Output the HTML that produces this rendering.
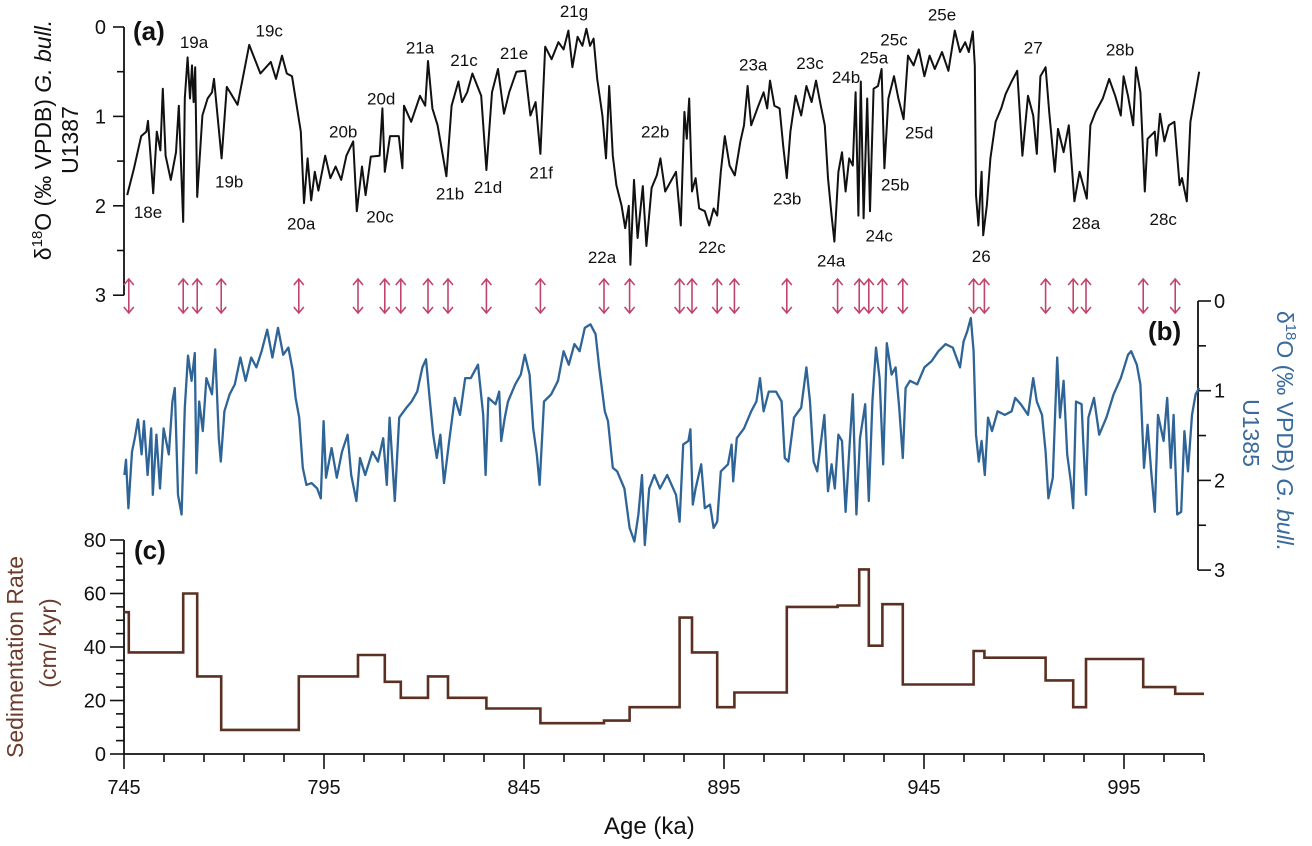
<!DOCTYPE html>
<html><head><meta charset="utf-8"><style>
html,body{margin:0;padding:0;background:#fff;}
svg{display:block;font-family:"Liberation Sans",sans-serif;}
</style></head><body>
<svg id="chart" width="1312" height="846" viewBox="0 0 1312 846"></svg>
<script>
const aAge=[745.8,747.5,749.3,750.6,751.0,752.3,753.2,754.1,754.7,755.4,756.7,758.0,758.7,759.8,760.2,760.9,761.5,762.0,762.4,762.8,763.3,764.6,765.9,767.0,767.5,769.4,770.7,773.4,776.3,779.1,781.7,783.0,784.5,785.7,787.0,789.2,790.0,790.9,791.8,792.7,793.6,795.3,796.6,797.9,799.3,800.6,802.3,803.2,804.5,805.4,806.7,808.9,809.6,810.2,811.5,813.7,814.6,815.0,816.8,819.0,820.3,821.0,822.1,823.4,825.6,826.9,828.6,829.5,830.8,832.1,834.3,835.6,837.0,838.5,840.0,841.3,843.1,845.3,846.6,847.9,849.1,850.3,851.9,853.6,854.9,856.1,857.1,858.4,859.6,860.6,861.5,862.4,863.3,864.6,865.5,866.3,867.2,868.1,869.4,870.3,871.2,871.6,872.5,873.4,874.7,875.6,876.9,878.2,879.1,
880.3,883.0,884.2,885.1,885.7,886.3,887.0,887.9,888.8,890.2,891.3,892.4,893.3,894.2,895.2,896.4,897.7,899.1,900.0,900.9,901.8,903.6,904.9,905.8,906.5,907.6,908.9,909.8,910.7,911.6,912.9,914.3,915.6,916.9,918.0,919.2,920.2,921.0,921.9,922.6,923.6,924.5,925.4,926.3,927.2,927.9,928.6,929.2,929.9,930.8,931.5,932.4,933.5,934.4,935.1,936.1,937.5,938.6,939.9,941.0,942.4,943.7,945.1,946.4,947.7,949.5,951.1,952.7,954.0,955.3,956.2,957.2,957.7,958.0,958.6,959.4,959.8,960.7,961.6,962.9,964.3,965.4,966.9,968.3,969.6,971.0,972.3,973.2,974.1,975.4,976.3,977.7,978.5,979.9,981.2,982.6,983.9,985.7,986.6,987.9,989.7,991.3,992.8,994.2,994.9,996.0,997.3,998.0,999.1,1000.2,1000.9,1002.7,1003.1,1004.0,1005.1,1006.2,1007.6,1008.3,1008.9,1009.5,1010.7,1011.6,1013.8];
const aVal=[1.88,1.58,1.22,1.17,1.05,1.86,1.17,1.38,0.69,1.44,1.71,1.40,0.88,2.18,0.80,0.34,0.80,0.43,0.84,0.45,1.90,0.99,0.80,0.73,0.58,1.47,0.67,0.87,0.20,0.52,0.39,0.58,0.32,0.52,0.55,1.17,1.97,1.47,1.94,1.62,1.83,1.44,1.69,1.56,1.71,1.44,1.28,2.06,1.56,1.88,1.45,1.44,0.91,1.62,1.22,1.22,1.58,0.88,1.06,0.77,0.88,0.38,0.91,1.10,1.67,0.88,0.61,0.84,0.73,0.52,0.77,1.60,0.73,0.47,0.97,0.73,0.50,0.49,0.99,0.84,1.42,0.22,0.36,0.17,0.25,0.04,0.45,0.11,0.21,0.02,0.21,0.13,0.58,0.99,1.47,0.66,1.44,1.77,2.0,2.25,2.0,2.66,1.71,2.36,1.78,2.45,1.80,1.66,1.47,
1.84,1.62,2.22,0.95,1.25,0.80,1.84,1.69,2.03,2.06,2.22,2.03,2.11,1.62,1.22,1.55,1.66,1.28,1.10,0.66,1.10,0.88,0.73,0.91,0.60,0.88,0.91,1.33,1.69,1.17,0.77,0.99,0.66,0.84,0.60,0.88,1.10,1.69,2.11,2.40,1.62,1.40,1.84,1.47,1.55,0.73,2.11,0.61,2.14,0.80,2.06,0.69,0.66,0.47,1.58,0.80,0.55,0.80,1.03,0.32,0.43,0.25,0.55,0.32,0.47,0.28,0.49,0.04,0.28,0.17,0.28,0.05,0.43,1.88,2.22,1.62,2.33,2.0,1.47,1.06,0.91,0.75,0.61,0.49,1.44,0.77,0.99,1.42,0.55,0.45,0.95,1.62,1.14,1.40,1.10,1.95,1.62,1.92,1.10,0.95,0.80,0.58,0.77,0.99,0.55,0.77,1.10,0.45,0.73,1.84,1.25,1.17,1.44,0.97,1.28,1.10,1.06,1.44,1.77,1.69,1.95,1.06,0.50];
const bAge=[745.1,745.5,746.1,747.0,747.7,748.5,749.4,750.0,750.9,751.8,752.2,753.1,754.0,754.9,756.2,757.1,757.7,758.5,759.4,760.2,761.0,761.9,762.7,763.1,763.8,764.7,765.6,767.0,767.8,768.7,769.2,770.1,771.4,772.7,774.1,775.4,776.8,778.1,779.4,780.8,782.1,783.5,784.8,786.1,787.2,787.9,788.8,789.7,790.6,791.9,793.3,794.2,794.9,795.5,796.9,798.2,799.5,800.9,801.8,803.1,804.0,805.3,807.1,808.5,809.8,810.7,811.4,812.7,813.8,815.6,816.9,818.3,819.6,820.5,821.4,822.3,823.2,824.1,825.0,826.3,827.7,829.0,830.3,831.7,833.5,834.8,835.4,836.1,837.9,838.8,839.3,840.2,841.0,842.8,844.2,845.2,846.4,847.3,848.2,848.9,850.0,851.8,853.5,854.9,856.2,857.6,858.9,860.2,861.6,862.9,863.8,865.2,866.0,867.2,868.3,870.1,871.4,872.6,873.6,874.5,875.2,876.3,877.6,879.0,
880.8,883.0,883.9,884.8,886.1,886.6,887.2,887.9,889.3,890.2,891.5,892.4,893.3,894.2,896.0,896.9,897.3,898.2,900.0,901.8,903.1,904.0,904.9,906.2,908.0,909.4,910.2,911.1,912.5,914.3,915.6,916.5,917.4,918.3,920.1,921.0,921.9,922.7,923.6,924.5,925.4,926.3,927.2,928.1,929.0,930.3,931.2,932.1,933.0,933.9,934.8,935.7,936.9,937.9,938.8,939.7,940.4,941.5,943.3,945.1,946.9,948.6,950.4,952.2,954.0,954.9,955.8,956.7,957.4,958.0,958.7,959.4,960.2,961.0,962.0,963.4,965.2,966.9,967.8,969.2,971.0,972.3,973.2,974.5,975.4,976.1,977.2,978.3,979.0,979.9,980.8,981.7,982.3,983.0,984.4,984.8,985.5,986.1,987.5,988.8,990.6,992.4,994.2,996.0,996.8,998.2,999.1,1000.0,1000.9,1001.8,1002.7,1003.5,1004.9,1005.8,1006.7,1007.4,1008.3,1009.3,1010.1,1011.0,1012.0,1012.9,1013.8];
const bVal=[1.94,1.77,2.31,1.68,1.53,1.32,1.71,1.34,1.94,1.42,2.16,1.49,2.09,1.42,1.71,1.12,0.97,2.16,2.38,1.19,0.61,0.89,0.58,1.92,1.12,1.45,0.86,1.04,0.54,1.53,1.79,1.23,1.04,0.93,0.63,0.89,0.63,0.74,0.56,0.32,0.63,0.30,0.60,0.52,0.78,1.08,1.30,1.86,2.05,2.03,2.09,2.20,1.34,1.97,1.64,1.97,1.68,1.49,1.94,2.23,1.75,1.94,1.68,1.79,1.53,2.05,1.30,2.23,1.30,1.19,1.12,1.01,0.74,0.65,1.08,1.49,1.75,1.49,2.03,1.56,1.08,1.27,0.86,0.86,0.71,1.27,1.94,1.08,1.15,1.01,1.56,1.30,1.12,0.93,0.82,0.60,0.82,1.42,1.71,2.05,1.12,1.04,0.89,0.56,0.71,0.48,0.56,0.30,0.26,0.37,0.74,1.23,1.34,1.86,1.90,2.09,2.53,2.68,2.38,1.94,2.72,2.09,1.94,2.09,
1.94,2.16,2.46,1.60,1.56,1.43,2.27,2.09,1.82,2.31,2.27,2.53,2.46,1.90,1.82,1.60,2.01,1.53,1.42,1.23,1.12,0.86,1.23,1.01,1.01,1.12,1.75,1.79,1.30,1.19,0.74,1.12,1.79,1.90,1.27,2.12,1.82,2.09,1.49,1.56,2.35,1.68,1.04,2.38,1.53,1.15,2.23,1.12,0.52,0.86,1.82,0.47,0.82,0.74,1.19,1.75,0.97,0.89,0.93,0.74,0.67,0.56,0.48,0.52,0.74,0.45,0.34,0.19,0.56,1.49,1.79,1.56,1.94,1.30,1.45,1.23,1.27,1.23,1.08,1.15,1.27,0.86,1.12,1.27,1.68,2.20,1.97,0.63,1.30,0.89,1.71,2.01,2.31,1.12,1.15,1.56,2.16,1.30,1.08,1.49,1.30,1.04,0.86,0.60,0.56,0.71,0.93,1.86,1.38,1.90,2.35,1.27,1.56,1.08,1.86,1.27,2.38,2.35,1.45,1.90,1.27,1.04,0.97];
const sedEdges=[745,746.2,759.8,763.3,769.3,788.7,803.5,810.2,814.2,821.0,826.0,835.6,849.1,865.0,871.4,883.9,887.0,893.3,897.6,910.7,923.4,928.8,931.2,934.6,939.7,957.4,960.1,975.4,982.3,985.5,999.8,1007.8,1015];
const sedRate=[53,38,60,29,9,29,37,27,21,29,21,17,11.5,12.5,17.5,51,38,17.5,23,55,55.5,69,40.5,56,26,38.5,36,27.5,17.5,35.5,25,22.5];
const tieAges=[746.2,759.8,763.3,769.3,788.7,803.5,810.2,814.2,821.0,826.0,835.6,849.1,865.0,871.4,883.9,887.0,893.3,897.6,910.7,923.4,928.8,931.2,934.6,939.7,957.4,960.1,975.4,982.3,985.5,999.8,1007.8];
const evNames=["18e","19a","19b","19c","20a","20b","20c","20d","21a","21b","21c","21d","21e","21f","21g","22a","22b","22c","23a","23b","23c","24a","24b","24c","25a","25b","25c","25d","25e","26","27","28a","28b","28c"];
const evAge=[751,762.5,771.3,781.3,789.3,799.8,809,809.3,819,826.5,830,836,842.5,849.3,857.5,864.5,877.8,892,902.3,910.8,916.5,921.8,925.5,933.8,932.5,937.8,937.5,943.8,949.5,959.3,972.3,985.5,994,1004.8];
const evVal=[2.07,0.17,1.73,0.04,2.2,1.17,2.12,0.8,0.23,1.86,0.37,1.79,0.29,1.63,-0.18,2.57,1.17,2.46,0.42,1.92,0.4,2.61,0.56,2.33,0.34,1.76,0.14,1.18,-0.14,2.56,0.23,2.19,0.25,2.15];
const xTicks=[745,795,845,895,945,995];
const aTicks=[0,1,2,3], bTicks=[0,1,2,3], cTicks=[0,20,40,60,80];

const X=a=>124+(a-745)*4;
const YA=v=>27+v*89.4;
const YB=v=>301+v*89.7;
const YC=v=>754-v*2.675;
const NS="http://www.w3.org/2000/svg";
const svg=document.getElementById('chart');
function mk(t,attrs,parent){const e=document.createElementNS(NS,t);for(const k in attrs)e.setAttribute(k,attrs[k]);(parent||svg).appendChild(e);return e;}
function txt(s,attrs,parent){const e=mk('text',attrs,parent);e.textContent=s;return e;}

// Panel a axis
let g=mk('g',{});


let l=mk('line',{x1:124,y1:YA(0),x2:124,y2:YA(3),stroke:'#111','stroke-width':1.8},g);
for(let v=0;v<=3.001;v+=0.5){const maj=Math.abs(v-Math.round(v))<0.01;
 mk('line',{x1:maj?113:117,y1:YA(v),x2:124,y2:YA(v),stroke:'#111','stroke-width':1.6},g);}
aTicks.forEach(v=>{const t=txt(String(v),{x:106,y:YA(v)+7,'text-anchor':'end','font-size':20,fill:'#111'},g);
 
 });

// Panel a line
let p=mk('path',{d:aAge.map((a,i)=>(i?'L':'M')+X(a).toFixed(1)+' '+YA(aVal[i]).toFixed(1)).join(''),fill:'none',stroke:'#111','stroke-width':2,'stroke-linejoin':'round'});



// event labels
evNames.forEach((n,i)=>{const t=txt(n,{x:X(evAge[i]),y:YA(evVal[i])+6,'text-anchor':'middle','font-size':17,fill:'#111'});
 
 });

// tie point arrows
tieAges.forEach(a=>{const x=X(a);const ag=mk('g',{stroke:'#c0456a','stroke-width':1.6,fill:'none'});
 
 
 mk('line',{x1:x,y1:279,x2:x,y2:313},ag);
 mk('polyline',{points:`${x-5},${285} ${x},${279} ${x+5},${285}`},ag);
 mk('polyline',{points:`${x-5},${307} ${x},${313} ${x+5},${307}`},ag);});

// Panel b axis (right)
g=mk('g',{});


mk('line',{x1:1198,y1:YB(0),x2:1198,y2:YB(3),stroke:'#111','stroke-width':1.8},g);
for(let v=0;v<=3.001;v+=0.5){const maj=Math.abs(v-Math.round(v))<0.01;
 mk('line',{x1:1198,y1:YB(v),x2:maj?1211:1206,y2:YB(v),stroke:'#111','stroke-width':1.6},g);}
bTicks.forEach(v=>{const t=txt(String(v),{x:1214,y:YB(v)+7,'font-size':20,fill:'#111'},g);
 
 });

p=mk('path',{d:bAge.map((a,i)=>(i?'L':'M')+X(a).toFixed(1)+' '+YB(bVal[i]).toFixed(1)).join(''),fill:'none',stroke:'#2f6497','stroke-width':2.3,'stroke-linejoin':'round'});



// Panel c axis
g=mk('g',{});


mk('line',{x1:124,y1:YC(80),x2:124,y2:YC(0),stroke:'#111','stroke-width':1.8},g);
for(let v=0;v<=80;v+=5){const maj=v%20===0;
 mk('line',{x1:maj?110:116,y1:YC(v),x2:124,y2:YC(v),stroke:'#111','stroke-width':1.6},g);}
cTicks.forEach(v=>{const t=txt(String(v),{x:106,y:YC(v)+7,'text-anchor':'end','font-size':20,fill:'#111'},g);
 
 });

let d='';sedRate.forEach((r,i)=>{d+=(i?'L':'M')+X(sedEdges[i]).toFixed(1)+' '+YC(r).toFixed(1)+'L'+X(sedEdges[i+1]).toFixed(1)+' '+YC(r).toFixed(1);});
p=mk('path',{d:d,fill:'none',stroke:'#5a3022','stroke-width':2.6});



// x axis
g=mk('g',{});


mk('line',{x1:124,y1:754,x2:X(1015),y2:754,stroke:'#111','stroke-width':1.8},g);
for(let a=745;a<=1015;a+=10){const maj=(a-745)%50===0;
 mk('line',{x1:X(a),y1:754,x2:X(a),y2:maj?769:762,stroke:'#111','stroke-width':1.6},g);}
xTicks.forEach(a=>{const t=txt(String(a),{x:X(a),y:794,'text-anchor':'middle','font-size':20,fill:'#111'},g);
 
 });
</script>
<svg width="0" height="0" style="position:absolute"></svg>
<script>
const s2=document.getElementById('chart');
function T(html,attrs){const e=document.createElementNS("http://www.w3.org/2000/svg",'text');for(const k in attrs)e.setAttribute(k,attrs[k]);e.innerHTML=html;s2.appendChild(e);return e;}
let t;
t=T('Age (ka)',{x:604,y:834,'font-size':24,fill:'#111'});


t=T('(a)',{x:133,y:40,'font-size':26,'font-weight':'bold',fill:'#111'});


t=T('(b)',{x:1148,y:340,'font-size':26,'font-weight':'bold',fill:'#111'});


t=T('(c)',{x:134,y:559,'font-size':26,'font-weight':'bold',fill:'#111'});


t=T('δ<tspan dy="-9" font-size="15">18</tspan><tspan dy="9">O (‰ VPDB) </tspan><tspan font-style="italic">G. bull.</tspan>',{transform:'translate(51,140) rotate(-90)','text-anchor':'middle','font-size':23,fill:'#111'});


t=T('U1387',{transform:'translate(78,140) rotate(-90)','text-anchor':'middle','font-size':23,fill:'#111'});


t=T('δ<tspan dy="-9" font-size="15">18</tspan><tspan dy="9">O (‰ VPDB) </tspan><tspan font-style="italic">G. bull.</tspan>',{transform:'translate(1277,431) rotate(90)','text-anchor':'middle','font-size':23,fill:'#3a6b9c'});


t=T('U1385',{transform:'translate(1243,433) rotate(90)','text-anchor':'middle','font-size':23,fill:'#3a6b9c'});


t=T('Sedimentation Rate',{transform:'translate(23,657) rotate(-90)','text-anchor':'middle','font-size':23,fill:'#6b3c2b'});


t=T('(cm/ kyr)',{transform:'translate(56,643) rotate(-90)','text-anchor':'middle','font-size':23,fill:'#6b3c2b'});


</script>
</body></html>
